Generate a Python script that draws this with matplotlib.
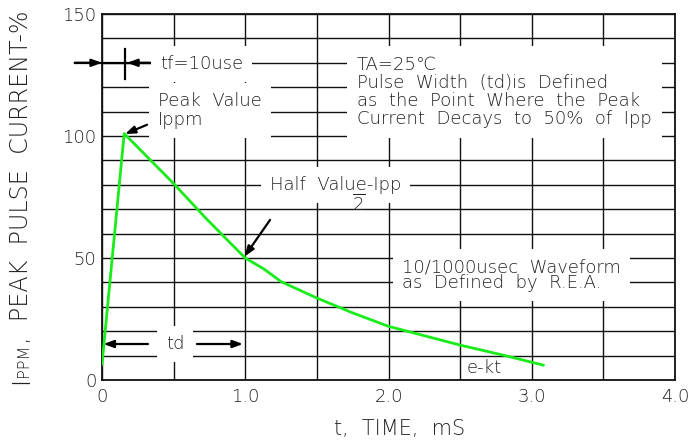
import matplotlib
matplotlib.use("Agg")
import matplotlib.pyplot as plt
import numpy as np

# ---- data ----
t_ms = [0.0, 0.155, 0.5, 0.73, 0.91, 1.0, 1.13, 1.25, 1.5, 1.75, 2.0, 2.5, 2.8, 3.08]
ipp_pct = [6.5, 101.0, 80.5, 66.0, 55.3, 50.0, 45.5, 40.3, 33.6, 27.5, 22.0, 14.3, 10.2, 6.1]

x_ticks = [0, 1, 2, 3, 4]
x_tick_labels = ["0", "1.0", "2.0", "3.0", "4.0"]
y_ticks = [0, 50, 100, 150]
y_tick_labels = ["0", "50", "100", "150"]

FONT = "DejaVu Sans"
plt.rcParams["font.family"] = [FONT]
WEIGHT = "light"

W, H = 692, 442
fig = plt.figure(figsize=(W / 100, H / 100), dpi=100)
L, R, T, B = 102, 675, 14, 380
ax = fig.add_axes([L / W, 1 - B / H, (R - L) / W, (B - T) / H])
ax.set_xlim(0, 4)
ax.set_ylim(0, 150)

ax.set_xticks(x_ticks)
ax.set_xticklabels(x_tick_labels, fontweight=WEIGHT)
ax.set_yticks(y_ticks)
ax.set_yticklabels(y_tick_labels, fontweight=WEIGHT)
ax.set_xticks(np.arange(0, 4.01, 0.5), minor=True)
ax.set_yticks(np.arange(0, 150.1, 10), minor=True)
ax.tick_params(which="both", length=0)
ax.tick_params(axis="x", pad=6, labelsize=13, colors="#222222")
ax.tick_params(axis="y", pad=4, labelsize=13, colors="#222222")
ax.grid(which="both", color="#111111", linewidth=1.0)
ax.set_axisbelow(True)
for s in ax.spines.values():
    s.set_linewidth(1.3)
    s.set_color("#111111")

# waveform
ax.plot(t_ms, ipp_pct, color="#1aeb1a", linewidth=2.0, zorder=4, solid_joinstyle="round")

txt_kw = dict(fontsize=13, color="#222222", zorder=5, fontweight=WEIGHT)
box = dict(facecolor="white", edgecolor="none", boxstyle="square,pad=0.5")
arrow_kw = dict(arrowstyle="-|>,head_length=0.6,head_width=0.22", color="black", lw=1.6,
                shrinkA=0, shrinkB=0)

# tf row
ax.plot([-0.19, 0.335], [130, 130], color="black", lw=1.6, clip_on=False, zorder=5)
ax.annotate("", xy=(0.0, 130), xytext=(-0.19, 130), arrowprops=arrow_kw,
            annotation_clip=False, zorder=6)
ax.annotate("", xy=(0.175, 130), xytext=(0.335, 130), arrowprops=arrow_kw, zorder=6)
ax.plot([0.16, 0.16], [123.5, 135.8], color="black", lw=1.6, zorder=6)
ax.text(0.405, 129.5, "tf=10use", ha="left", va="center", bbox=box, **txt_kw)

# peak value
ax.text(0.39, 110.5, "Peak  Value\nIppm", ha="left", va="center", linespacing=1.05,
        bbox=box, **txt_kw)
ax.annotate("", xy=(0.16, 100.8), xytext=(0.314, 104.6), arrowprops=arrow_kw, zorder=6)

# half value
ax.text(1.173, 79.8, "Half  Value-Ipp", ha="left", va="center", bbox=box, **txt_kw)
ax.text(1.79, 72.0, r"$\mathregular{\overline{2}}$", ha="center", va="center", **txt_kw)
ax.annotate("", xy=(0.995, 50.6), xytext=(1.173, 65.6), arrowprops=arrow_kw, zorder=6)

# notes block
ax.text(1.78, 118.2,
        "TA=25\u2103\nPulse  Width  (td)is  Defined\nas  the  Point  Where  the  Peak\n"
        "Current  Decays  to  50%  of  Ipp",
        ha="left", va="center", linespacing=1.0,
        bbox=dict(facecolor="white", edgecolor="none", boxstyle="square,pad=0.55"),
        **txt_kw)

# waveform note
ax.text(2.094, 43.0, "10/1000usec  Waveform\nas  Defined  by  R.E.A.", ha="left", va="center",
        linespacing=0.85, bbox=box, **txt_kw)

# td
ax.text(0.51, 14.75, "td", ha="center", va="center", bbox=box, **txt_kw)
ax.annotate("", xy=(0.01, 14.75), xytext=(0.321, 14.75), arrowprops=arrow_kw, zorder=6)
ax.annotate("", xy=(0.984, 14.75), xytext=(0.663, 14.75), arrowprops=arrow_kw, zorder=6)

# e-kt
ax.text(2.548, 4.9, "e-kt", ha="left", va="center", **txt_kw)

# x label
fig.text(400 / W, 1 - 429 / H, "t,  TIME,  mS", ha="center", va="center", fontsize=15,
         color="#222222", fontweight=WEIGHT)

# y label built from pieces (small-caps style subscript)
fig.canvas.draw()
renderer = fig.canvas.get_renderer()
pieces = [("I", 17.2), ("PPM", 11.5), (",  PEAK  PULSE  CURRENT-%", 17.2)]
ybase = (H - 384) / H
xbase = 28 / W
for s, fs in pieces:
    t = fig.text(xbase, ybase, s, rotation=90, rotation_mode="anchor", ha="left",
                 va="baseline", fontsize=fs, color="#222222", fontweight=WEIGHT)
    bb = t.get_window_extent(renderer)
    ybase = bb.y1 / H

fig.savefig("out.png", dpi=100)
